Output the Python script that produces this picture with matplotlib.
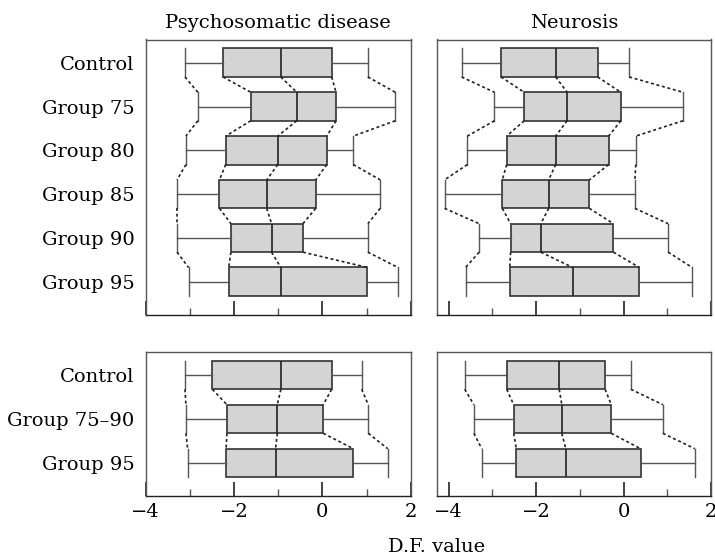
import matplotlib
matplotlib.use("Agg")
import matplotlib.pyplot as plt
from matplotlib.ticker import MultipleLocator

plt.rcParams['font.family'] = ['DejaVu Serif']

# box statistics: whislo, q1, median, q3, whishi
groups_top = ["Control", "Group 75", "Group 80", "Group 85", "Group 90", "Group 95"]
groups_bottom = ["Control", "Group 75\u201390", "Group 95"]

psycho_top = [
    [-3.11, -2.25, -0.94, 0.21, 1.03],
    [-2.82, -1.62, -0.58, 0.31, 1.65],
    [-3.09, -2.19, -1.01, 0.10, 0.70],
    [-3.29, -2.33, -1.26, -0.15, 1.31],
    [-3.29, -2.07, -1.15, -0.44, 1.03],
    [-3.03, -2.12, -0.94, 1.02, 1.71],
]
neuro_top = [
    [-3.70, -2.80, -1.55, -0.59, 0.13],
    [-2.95, -2.27, -1.29, -0.06, 1.36],
    [-3.57, -2.67, -1.55, -0.34, 0.28],
    [-4.09, -2.77, -1.71, -0.78, 0.26],
    [-3.30, -2.58, -1.89, -0.23, 1.02],
    [-3.61, -2.60, -1.16, 0.36, 1.57],
]
psycho_bottom = [
    [-3.11, -2.49, -0.94, 0.21, 0.89],
    [-3.09, -2.16, -1.02, 0.02, 1.04],
    [-3.05, -2.18, -1.06, 0.70, 1.48],
]
neuro_bottom = [
    [-3.63, -2.67, -1.47, -0.42, 0.17],
    [-3.42, -2.51, -1.41, -0.28, 0.90],
    [-3.24, -2.45, -1.32, 0.39, 1.63],
]

W, H = 715, 557
fig = plt.figure(figsize=(W / 100, H / 100), dpi=100)


def px_axes(l, r, t, b):
    return fig.add_axes([l / W, 1 - b / H, (r - l) / W, (b - t) / H])


BOXW = 0.65
FS = 14
keys = ["whislo", "q1", "med", "q3", "whishi"]


def draw(ax, data, labels, xlim, ylim, show_labels, show_x):
    stats = [dict(zip(keys, row)) for row in data]
    pos = list(range(1, len(data) + 1))
    ax.bxp(stats, positions=pos, widths=BOXW, capwidths=BOXW,
           orientation='horizontal', showfliers=False, patch_artist=True,
           boxprops=dict(facecolor='#d4d4d4', edgecolor='#333333', linewidth=1.2),
           medianprops=dict(color='#222222', linewidth=1.2),
           whiskerprops=dict(color='#555555', linewidth=1.0),
           capprops=dict(color='#555555', linewidth=1.0))
    # dotted connectors between successive groups
    for i in range(len(data) - 1):
        for k in range(5):
            ax.plot([data[i][k], data[i + 1][k]],
                    [pos[i] + BOXW / 2, pos[i + 1] - BOXW / 2],
                    color='#222222', linestyle=(0, (1.8, 1.6)), linewidth=1.2)
    ax.set_xlim(*xlim)
    ax.set_ylim(*ylim)
    ax.set_yticks(pos)
    if show_labels:
        ax.set_yticklabels(labels, fontsize=FS)
    else:
        ax.set_yticklabels([])
    ax.tick_params(axis='y', length=0, pad=8)
    ax.xaxis.set_major_locator(MultipleLocator(2))
    ax.xaxis.set_minor_locator(MultipleLocator(1))
    ax.tick_params(axis='x', which='major', direction='in', length=10, width=1.2,
                   color='#222222', labelsize=FS, pad=5)
    ax.tick_params(axis='x', which='minor', direction='in', length=5, width=1.0,
                   color='#555555')
    ax.set_xticks([-4, -2, 0, 2])
    if show_x:
        ax.set_xticklabels(["\u22124", "\u22122", "0", "2"])
    else:
        ax.set_xticklabels([])
    for s in ax.spines.values():
        s.set_color('#555555')
        s.set_linewidth(1.0)
    ax.spines['bottom'].set_color('#222222')


ax1 = px_axes(145.7, 410.7, 39.5, 315)
draw(ax1, psycho_top, groups_top, (-4, 2), (6.76, 0.47), True, False)
ax1.set_title("Psychosomatic disease", fontsize=FS, pad=8)

ax2 = px_axes(436.7, 711, 39.5, 315)
draw(ax2, neuro_top, groups_top, (-4.27, 2), (6.76, 0.47), False, False)
ax2.set_title("Neurosis", fontsize=FS, pad=8)

ax3 = px_axes(145.7, 410.7, 352.3, 496)
draw(ax3, psycho_bottom, groups_bottom, (-4, 2), (3.75, 0.484), True, True)

ax4 = px_axes(436.7, 711, 352.3, 496)
draw(ax4, neuro_bottom, groups_bottom, (-4.27, 2), (3.75, 0.484), False, True)

fig.text(437 / W, 1 - 547 / H, "D.F. value", ha='center', va='center', fontsize=FS)

fig.savefig("out.png", dpi=100)
